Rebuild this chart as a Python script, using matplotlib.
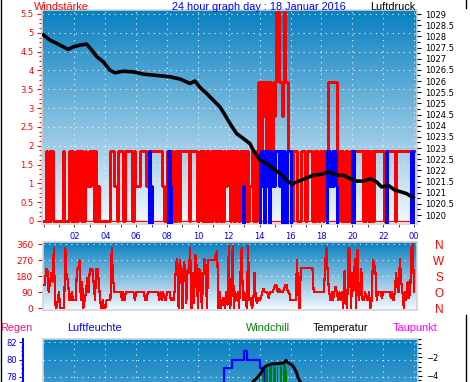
import numpy as np
import matplotlib
matplotlib.use("Agg")
import matplotlib.pyplot as plt
from matplotlib.collections import LineCollection
from matplotlib.lines import Line2D
from matplotlib.ticker import MultipleLocator, FuncFormatter

# ---------------- data ----------------
# wind levels (5-minute samples) coded as multiples of 0.926
level_map = {'0': 0.0, '1': 0.926, '2': 1.852, '3': 2.778, '4': 3.704, '5': 4.63, '6': 5.556}
gust_code = [
    "002020200000", "000200002020", "020220202112", "122020100000",
    "000022211022", "220222222021", "111222221202", "222222221100",
    "202220202022", "222220222220", "012020202020", "202020202112",
    "202020200202", "202011202024", "424342424243", "466443464422",
    "202220002220", "022220202002", "202224444444", "202020202022",
    "222222220202", "020202222222", "202222222022", "222222222222",
]
avg_code = [
    "000000000000", "000000000000", "000000000000", "000000000000",
    "000000000000", "000000000000", "000000000021", "000000000000",
    "021000000000", "000000000000", "000000000000", "000000000000",
    "000000000001", "000000000000", "212021202121", "222120220222",
    "000000000000", "000000000000", "000021212121", "000000000000",
    "200000000000", "000000000000", "002000000000", "000000000020",
]

pressure_h = [0.0, 0.42, 0.85, 1.28, 1.6, 1.93, 2.36, 2.8, 3.12, 3.45, 3.87, 4.3, 4.63,
              5.17, 5.82, 6.46, 7.33, 8.19, 8.84, 9.49, 9.81, 10.14, 10.57, 11.0, 11.43,
              11.76, 12.08, 12.5, 12.94, 13.37, 13.59, 14.02, 14.46, 14.88, 15.32, 15.75,
              16.08, 16.4, 16.94, 17.47, 18.02, 18.44, 18.99, 19.42, 19.85, 20.28, 20.71,
              21.15, 21.58, 21.9, 22.33, 22.77, 23.2, 23.52, 23.95]
pressure_v = [1028.06, 1027.83, 1027.69, 1027.53, 1027.42, 1027.53, 1027.61, 1027.65,
              1027.39, 1027.09, 1026.86, 1026.49, 1026.37, 1026.44, 1026.41, 1026.31,
              1026.25, 1026.19, 1026.09, 1025.89, 1026.0, 1025.71, 1025.44, 1025.14,
              1024.84, 1024.47, 1024.1, 1023.65, 1023.43, 1023.2, 1022.9, 1022.45, 1022.3,
              1022.08, 1021.86, 1021.56, 1021.38, 1021.48, 1021.63, 1021.78, 1021.83,
              1021.93, 1021.78, 1021.78, 1021.63, 1021.52, 1021.52, 1021.63, 1021.48,
              1021.26, 1021.33, 1021.11, 1021.03, 1020.96, 1020.78]

# wind direction, 5-minute samples (degrees)
direction = [
    130, 130, 220, 220, 90, 140, 200, 150, 340, 30,
    0, 40, 90, 0, 0, 0, 0, 340, 170, 160,
    45, 45, 90, 45, 45, 45, 220, 220, 270, 45,
    150, 0, 45, 90, 170, 90, 220, 220, 220, 140,
    45, 220, 220, 150, 45, 0, 45, 0, 0, 45,
    45, 45, 45, 340, 180, 90, 90, 90, 90, 90,
    90, 45, 90, 45, 90, 90, 90, 90, 90, 90,
    90, 45, 90, 90, 90, 90, 90, 90, 90, 45,
    45, 90, 90, 90, 90, 90, 90, 90, 90, 90,
    45, 90, 45, 90, 60, 45, 90, 90, 90, 45,
    60, 45, 100, 250, 280, 0, 270, 200, 0, 260,
    230, 30, 220, 200, 340, 0, 200, 30, 300, 240,
    0, 220, 200, 0, 150, 280, 240, 0, 270, 270,
    270, 270, 270, 270, 310, 320, 0, 90, 0, 45,
    60, 0, 90, 20, 350, 0, 45, 350, 0, 90,
    45, 90, 0, 180, 340, 45, 90, 45, 0, 350,
    45, 60, 0, 30, 200, 45, 30, 60, 45, 60,
    90, 110, 90, 90, 90, 60, 90, 90, 90, 110,
    130, 130, 90, 110, 90, 90, 90, 110, 130, 130,
    90, 90, 45, 45, 45, 45, 45, 270, 90, 0,
    225, 225, 225, 225, 225, 225, 225, 225, 225, 225,
    90, 90, 90, 90, 90, 90, 90, 90, 90, 270,
    340, 180, 90, 45, 90, 45, 90, 120, 90, 45,
    90, 45, 90, 0, 210, 45, 0, 340, 330, 0,
    200, 100, 280, 0, 330, 45, 90, 220, 45, 45,
    90, 60, 45, 90, 0, 45, 270, 250, 200, 45,
    90, 90, 90, 60, 90, 90, 90, 90, 90, 90,
    60, 90, 45, 90, 200, 120, 90, 280, 150, 90,
    0, 90, 45, 150, 60, 90, 340, 360, 90,
]

temp_h = [13.2, 13.59, 13.91, 14.13, 14.24, 14.46, 14.78, 15.21, 15.53, 15.71, 15.86,
          16.08, 16.24, 16.4, 16.5, 16.61, 17.0]
temp_v = [-5.5, -4.62, -4.08, -3.6, -3.16, -2.91, -2.72, -2.69, -2.61, -2.33, -2.61,
          -2.8, -3.16, -3.7, -4.25, -4.62, -5.5]

humid_h = [11.0, 11.7, 12.2, 13.0, 13.2, 14.0, 14.3, 15.0]
humid_v = [76, 79, 80, 81, 80, 79, 77, 76]

chill_h = [13.9, 14.0, 14.08, 14.17, 14.25, 14.33, 14.42, 14.5, 14.58, 14.67, 14.75,
           14.83, 14.92, 15.0, 15.08, 15.17, 15.25, 15.33, 15.42, 15.5, 15.58, 15.67,
           15.75, 15.83, 15.92, 16.0]
chill_v = [-6, -4.1, -6, -3.4, -3.2, -6, -3.0, -3.3, -6, -3.0, -2.95, -6, -2.95, -3.0,
           -6, -3.1, -6, -2.95, -2.9, -6, -2.6, -2.6, -3.4, -6, -6, -6]

hour_labels = ["02", "04", "06", "08", "10", "12", "14", "16", "18", "20", "22", "00"]
dir_labels = ["N", "W", "S", "O", "N"]

# ---------------- figure ----------------
W, H = 470, 382
fig = plt.figure(figsize=(W / 100, H / 100), dpi=100)
fig.patch.set_facecolor("white")

PX0, PXH = 43.5, 15.44  # pixel of hour 0, pixels per hour


def ax_at(x0, y0, x1, y1):
    a = fig.add_axes([x0 / W, 1 - y1 / H, (x1 - x0) / W, (y1 - y0) / H])
    a.set_xlim((x0 - PX0) / PXH, (x1 - PX0) / PXH)
    return a


def gradient(a, top, bottom):
    n = 256
    t = np.linspace(0, 1, n)[:, None, None]
    top = np.array(top, dtype=float) / 255.0
    bottom = np.array(bottom, dtype=float) / 255.0
    img = top[None, None, :] * (1 - t) + bottom[None, None, :] * t
    a.imshow(img, extent=[0, 1, 0, 1], transform=a.transAxes, aspect="auto",
             zorder=0, interpolation="bilinear")


def frame(a):
    for s in a.spines.values():
        s.set_color("#d4d4d4")
        s.set_linewidth(1.2)


GRAD_TOP = (8, 128, 192)
GRAD_BOT = (244, 249, 254)
FONT = "Liberation Sans"
TICKFONT = "DejaVu Sans"
grid_kw = dict(color="#f4f4f4", lw=0.8, ls=(0, (1, 4)), zorder=1)
fmt = FuncFormatter(lambda v, p: "%g" % round(v, 1))

# ---------------- top panel ----------------
ax = ax_at(42, 10, 417, 224)
ax.set_ylim(-0.08, 5.606)
gradient(ax, GRAD_TOP, GRAD_BOT)
frame(ax)
for yv in np.arange(0.5, 5.51, 0.5):
    ax.axhline(yv, **grid_kw)
for xv in range(2, 25, 2):
    ax.axvline(xv, **grid_kw)

t = np.arange(288) / 12.0
gust = np.array([level_map[c] for c in "".join(gust_code)])
avg = np.array([level_map[c] for c in "".join(avg_code)])

# gusts (red) step line
ax.step(np.append(t, 24.0), np.append(gust, gust[-1]), where="post", color="#ff0000",
        lw=0.75, antialiased=False, zorder=2)
ax.hlines(0, 0, 24, color="#ff0000", lw=0.9, zorder=2)

# average wind (blue): step outline, zero runs not drawn, bars reach below zero
segs = []
low = -0.06
prev = 0.0
for k in range(288):
    v = avg[k]
    if v != prev:
        a0 = prev if prev > 0 else low
        a1 = v if v > 0 else low
        segs.append([(t[k], a0), (t[k], a1)])
    if v > 0:
        segs.append([(t[k], v), (t[k] + 1 / 12.0, v)])
    prev = v
if prev > 0:
    segs.append([(24.0, prev), (24.0, low)])
ax.add_collection(LineCollection(segs, colors="#0000ff", linewidths=0.9, antialiased=False, zorder=3))

ax.set_yticks(np.arange(0, 5.51, 0.5))
ax.yaxis.set_major_formatter(fmt)
ax.yaxis.set_minor_locator(MultipleLocator(0.125))
ax.tick_params(axis="y", which="major", colors="#ff0000", labelsize=6, length=3.5, width=0.8, pad=2.5)
ax.tick_params(axis="y", which="minor", colors="#ff0000", length=2, width=0.8)
for lab in ax.get_yticklabels():
    lab.set_fontfamily(TICKFONT)
ax.set_xticks(range(2, 25, 2))
ax.set_xticklabels(hour_labels, fontfamily=TICKFONT)
ax.xaxis.set_minor_locator(MultipleLocator(1))
ax.tick_params(axis="x", which="both", colors="#555555", length=2.5, width=0.8, labelcolor="#0000ff",
               labelsize=6, pad=3)

axp = ax.twinx()
axp.set_ylim(1019.6, 1029.18)
axp.plot(pressure_h, pressure_v, color="black", lw=2.6, zorder=5)
axp.set_yticks(np.arange(1020, 1029.01, 0.5))
axp.yaxis.set_major_formatter(fmt)
axp.yaxis.set_minor_locator(MultipleLocator(0.25))
axp.tick_params(axis="y", which="major", colors="black", labelsize=6, length=3, width=0.8, pad=2.5)
axp.tick_params(axis="y", which="minor", colors="black", length=2, width=0.8)
for lab in axp.get_yticklabels():
    lab.set_fontfamily(TICKFONT)
for s in axp.spines.values():
    s.set_visible(False)

fig.text(34 / W, 1 - 9.5 / H, "Windstärke", color="#ff0000", fontsize=7.8, fontfamily=FONT,
         ha="left", va="baseline")
fig.text(172 / W, 1 - 9.5 / H, "24 hour graph day : 18 Januar 2016", color="#0000ff", fontsize=7.8,
         fontfamily=FONT, ha="left", va="baseline")
fig.text(415 / W, 1 - 9.5 / H, "Luftdruck", color="black", fontsize=7.8, fontfamily=FONT,
         ha="right", va="baseline")

# ---------------- middle panel (wind direction) ----------------
axd = ax_at(43, 242, 417, 310)
axd.set_ylim(-9.6, 373)
gradient(axd, GRAD_TOP, GRAD_BOT)
frame(axd)
for yv in [0, 90, 180, 270, 360]:
    axd.axhline(yv, **grid_kw)
dir_h = np.arange(len(direction)) / 12.0
axd.plot(dir_h, direction, color="#ff0000", lw=0.8, antialiased=False, zorder=3)
axd.set_yticks([0, 90, 180, 270, 360])
axd.set_xticks([])
axd.tick_params(axis="y", colors="#ff0000", labelsize=6.5, length=3.5, width=0.8, pad=3.5)
for lab in axd.get_yticklabels():
    lab.set_fontfamily(TICKFONT)
for k, lab in enumerate(dir_labels):
    yv = [360, 270, 180, 90, 0][k]
    ypix = 308.3 - yv * 16 / 90.0 + 2
    fig.text(439 / W, 1 - ypix / H, lab, color="#ff0000", fontsize=8.5, fontfamily=FONT,
             ha="center", va="center")

# ---------------- bottom panel (temperature / humidity) ----------------
axb = ax_at(43, 339, 418, 553)
axb.set_ylim(-23.3, 0.0)
gradient(axb, GRAD_TOP, GRAD_BOT)
frame(axb)
axb.set_xticks([])
axb.set_yticks([])
for xv in range(2, 25, 2):
    axb.axvline(xv, **grid_kw)

axh = axb.twinx()
axh.set_ylim(57.64, 82.38)
for yv in [82, 80, 78, 76, 74]:
    axh.axhline(yv, **grid_kw)
axh.step(humid_h, humid_v, where="post", color="#0000ff", lw=1.6, zorder=4)
axh.yaxis.set_ticks_position("left")
axh.yaxis.set_label_position("left")
axh.spines["left"].set_position(("outward", 14.4))
axh.spines["left"].set_color("#0000ff")
axh.spines["left"].set_linewidth(1.4)
for s in ["right", "top", "bottom"]:
    axh.spines[s].set_visible(False)
axh.set_yticks([78, 80, 82])
axh.yaxis.set_minor_locator(MultipleLocator(0.5))
axh.tick_params(axis="y", which="major", colors="#0000ff", labelsize=6, length=3, width=0.8, pad=1.5)
axh.tick_params(axis="y", which="minor", colors="#0000ff", length=1.8, width=0.8)
for lab in axh.get_yticklabels():
    lab.set_fontfamily(TICKFONT)

axt = axb.twinx()
axt.set_ylim(-23.3, 0.0)
for s in axt.spines.values():
    s.set_visible(False)
axt.fill_between(chill_h, chill_v, -23.3, step="mid", color="#008000", lw=0, zorder=2)
axt.plot(temp_h, temp_v, color="black", lw=2.2, zorder=5)
axt.set_yticks([-4, -2])
axt.yaxis.set_minor_locator(MultipleLocator(0.5))
axt.tick_params(axis="y", which="major", colors="black", labelsize=6, length=3, width=0.8, pad=2.5)
axt.tick_params(axis="y", which="minor", colors="black", length=1.8, width=0.8)
for lab in axt.get_yticklabels():
    lab.set_fontfamily(TICKFONT)

for x0, txt, col in [(0, "Regen", "#e8127c"), (67, "Luftfeuchte", "#0000ff"),
                     (246, "Windchill", "#008000"), (313, "Temperatur", "black"),
                     (393, "Taupunkt", "#ff00ff")]:
    fig.text(x0 / W, 1 - 331 / H, txt, color=col, fontsize=7.8, fontfamily=FONT,
             ha="left", va="baseline")

# image border strokes
fig.add_artist(Line2D([0.7 / W, 0.7 / W], [0, 1], color="black", lw=1.0, transform=fig.transFigure))
fig.add_artist(Line2D([466 / W, 466 / W], [1, 1 - 8 / H], color="black", lw=1.0, transform=fig.transFigure))
fig.add_artist(Line2D([466 / W, 466 / W], [1 - 315 / H, 0], color="black", lw=1.0, transform=fig.transFigure))

fig.savefig("out.png", dpi=100)
